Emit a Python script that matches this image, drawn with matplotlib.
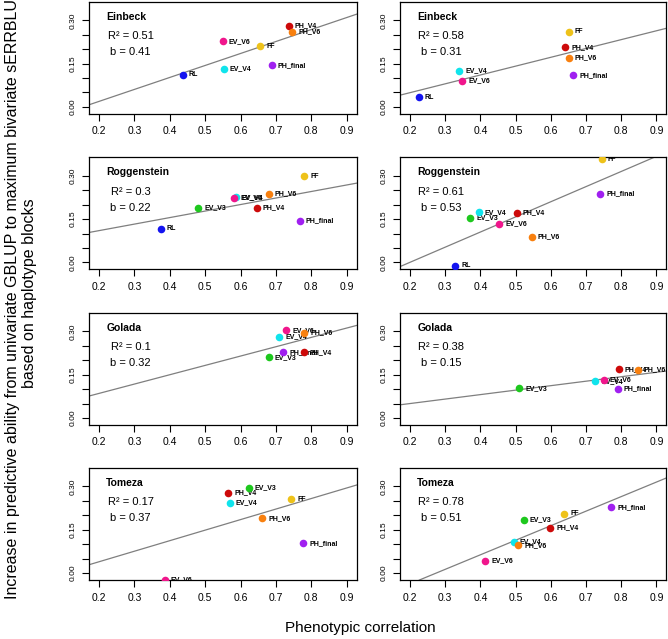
import numpy as np
import matplotlib
matplotlib.use("Agg")
import matplotlib.pyplot as plt

plt.rcParams['font.family'] = ['Liberation Sans', 'DejaVu Sans']

# sites (rows) and fit statistics shown in each panel (left, right)
sites = ["Einbeck", "Roggenstein", "Golada", "Tomeza"]
r2_left = ["0.51", "0.3", "0.1", "0.17"]
b_left = ["0.41", "0.22", "0.32", "0.37"]
r2_right = ["0.58", "0.61", "0.38", "0.78"]
b_right = ["0.31", "0.53", "0.15", "0.51"]

# Einbeck
ein_l_lab = ["RL", "EV_V4", "EV_V6", "FF", "PH_V4", "PH_V6", "PH_final"]
ein_l_x = [0.437, 0.552, 0.550, 0.656, 0.736, 0.746, 0.688]
ein_l_y = [0.112, 0.131, 0.227, 0.210, 0.280, 0.260, 0.144]
ein_r_lab = ["RL", "EV_V4", "EV_V6", "FF", "PH_V4", "PH_V6", "PH_final"]
ein_r_x = [0.225, 0.340, 0.349, 0.651, 0.641, 0.651, 0.664]
ein_r_y = [0.033, 0.125, 0.091, 0.261, 0.206, 0.169, 0.110]

# Roggenstein
rog_l_lab = ["RL", "EV_V3", "EV_V4", "EV_V6", "FF", "PH_V4", "PH_V6", "PH_final"]
rog_l_x = [0.375, 0.480, 0.586, 0.582, 0.780, 0.646, 0.680, 0.767]
rog_l_y = [0.117, 0.189, 0.226, 0.223, 0.299, 0.189, 0.238, 0.145]
rog_r_lab = ["RL", "EV_V3", "EV_V4", "EV_V6", "FF", "PH_V4", "PH_V6", "PH_final"]
rog_r_x = [0.329, 0.371, 0.395, 0.453, 0.744, 0.503, 0.546, 0.740]
rog_r_y = [-0.011, 0.154, 0.174, 0.133, 0.358, 0.172, 0.088, 0.237]

# Golada
gol_l_lab = ["EV_V3", "EV_V4", "EV_V6", "PH_V4", "PH_V6", "PH_final"]
gol_l_x = [0.679, 0.709, 0.729, 0.778, 0.780, 0.721]
gol_l_y = [0.210, 0.282, 0.303, 0.228, 0.294, 0.227]
gol_r_lab = ["EV_V3", "EV_V4", "EV_V6", "PH_V4", "PH_V6", "PH_final"]
gol_r_x = [0.510, 0.726, 0.750, 0.793, 0.847, 0.790]
gol_r_y = [0.103, 0.127, 0.132, 0.169, 0.166, 0.101]

# Tomeza
tom_l_lab = ["EV_V3", "EV_V4", "EV_V6", "FF", "PH_V4", "PH_V6", "PH_final"]
tom_l_x = [0.623, 0.570, 0.386, 0.743, 0.565, 0.661, 0.777]
tom_l_y = [0.296, 0.244, -0.023, 0.256, 0.277, 0.189, 0.103]
tom_r_lab = ["EV_V3", "EV_V4", "EV_V6", "FF", "PH_V4", "PH_V6", "PH_final"]
tom_r_x = [0.523, 0.494, 0.414, 0.638, 0.599, 0.508, 0.771]
tom_r_y = [0.185, 0.108, 0.042, 0.205, 0.157, 0.096, 0.228]

cols = {"RL": "#1414F0", "EV_V3": "#1EC81E", "EV_V4": "#10E4EC",
        "EV_V6": "#F0168C", "FF": "#EEC21A", "PH_V4": "#CD0A0A",
        "PH_V6": "#F8800F", "PH_final": "#A020F0"}
order = ["RL", "EV_V3", "EV_V4", "EV_V6", "FF", "PH_V4", "PH_V6", "PH_final"]

left_panels = [(ein_l_lab, ein_l_x, ein_l_y), (rog_l_lab, rog_l_x, rog_l_y),
               (gol_l_lab, gol_l_x, gol_l_y), (tom_l_lab, tom_l_x, tom_l_y)]
right_panels = [(ein_r_lab, ein_r_x, ein_r_y), (rog_r_lab, rog_r_x, rog_r_y),
                (gol_r_lab, gol_r_x, gol_r_y), (tom_r_lab, tom_r_x, tom_r_y)]

fig = plt.figure(figsize=(6.68, 6.39), dpi=100)

col_left = [0.1334, 0.599]
col_w = [0.4005, 0.3985]
row_bottom = [0.8218, 0.5784, 0.3350, 0.0923]
row_h = 0.1754

xt = np.arange(0.2, 0.91, 0.1)
yt = np.arange(0, 0.301, 0.05)
ytl = ["0.00", "", "", "0.15", "", "", "0.30"]

for i, site in enumerate(sites):
    for j in range(2):
        if j == 0:
            labs, xs, ys = left_panels[i]
            r2, b = r2_left[i], b_left[i]
        else:
            labs, xs, ys = right_panels[i]
            r2, b = r2_right[i], b_right[i]
        ax = fig.add_axes([col_left[j], row_bottom[i], col_w[j], row_h])
        ax.set_xlim(0.172, 0.928)
        ax.set_ylim(-0.024, 0.364)

        # regression line through the points (like abline(lm(y~x)))
        slope, icpt = np.polyfit(xs, ys, 1)
        ax.axline((0, icpt), slope=slope, color='#7f7f7f', lw=0.9, zorder=2)

        # draw in the fixed order so overlaps look the same
        idx = sorted(range(len(labs)), key=lambda k: order.index(labs[k]))
        for k in idx:
            ax.annotate(labs[k], (xs[k], ys[k]), xytext=(4.3, 0),
                        textcoords='offset points', fontsize=5,
                        fontweight='bold', ha='left', va='center',
                        zorder=3, clip_on=True)
        for k in idx:
            ax.scatter(xs[k], ys[k], s=30, color=cols[labs[k]],
                       linewidths=0, zorder=4)

        ax.text(0.064, 0.865, site, transform=ax.transAxes, fontsize=7.5,
                fontweight='bold', ha='left', va='center')
        ax.text(0.155, 0.695, "R\u00b2 = " + r2, transform=ax.transAxes,
                fontsize=8, ha='center', va='center')
        ax.text(0.155, 0.552, "b = " + b, transform=ax.transAxes,
                fontsize=8, ha='center', va='center')

        ax.set_xticks(xt)
        ax.set_xticklabels(["%.1f" % v for v in xt])
        ax.set_yticks(yt)
        ax.set_yticklabels(ytl, rotation=90, va='center')
        ax.tick_params(axis='x', length=5, width=0.8, labelsize=7.5, pad=4)
        ax.tick_params(axis='y', length=5, width=0.8, labelsize=6, pad=4)
        for s in ax.spines.values():
            s.set_linewidth(0.9)

fig.text(0.031, 0.5407,
         "Increase in predictive ability from univariate GBLUP to maximum bivariate sERRBLUP\nbased on haplotype blocks",
         rotation=90, ha='center', va='center', fontsize=11.5,
         multialignment='center', linespacing=1.15)
fig.text(0.54, 0.017, "Phenotypic correlation", ha='center', va='center',
         fontsize=11)

fig.savefig("out.png", dpi=100)
